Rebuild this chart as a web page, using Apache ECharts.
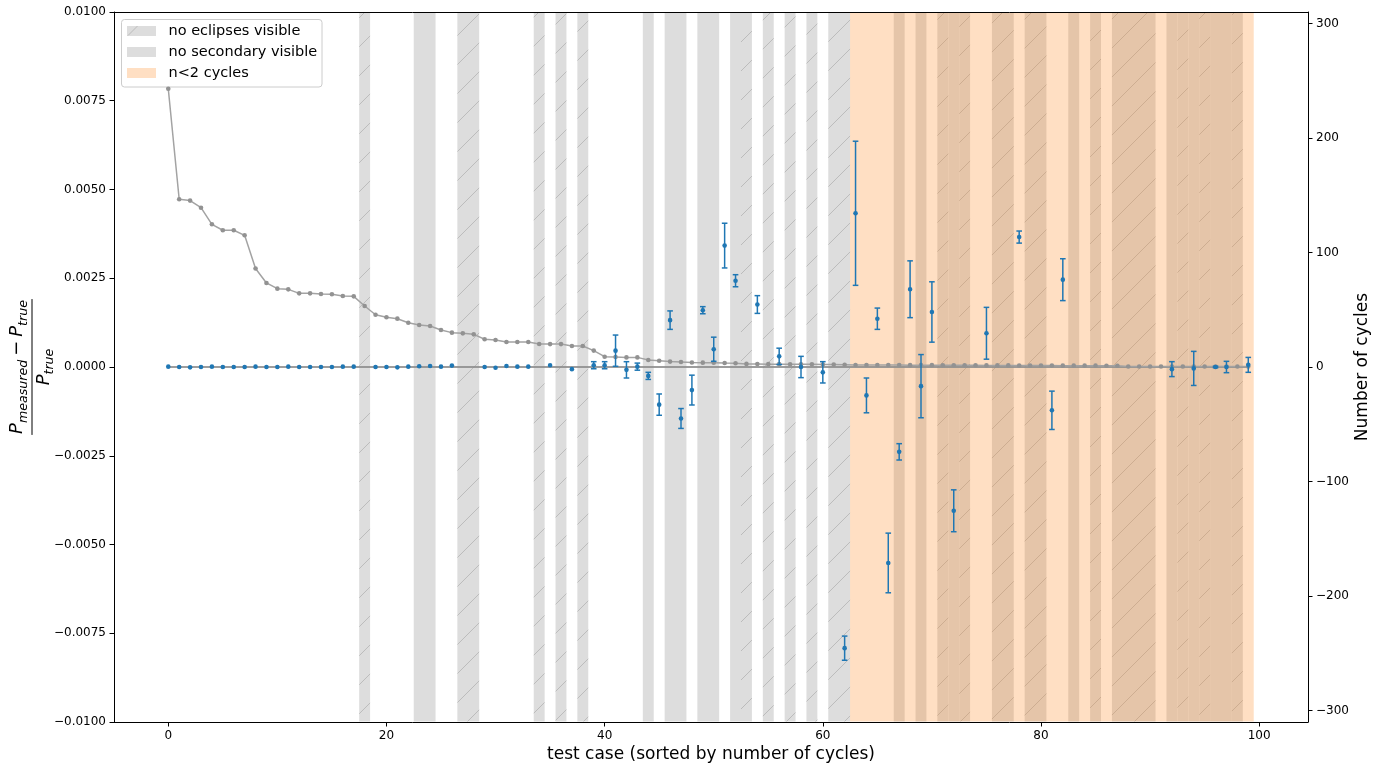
<!DOCTYPE html>
<html><head><meta charset="utf-8">
<script src="https://cdn.jsdelivr.net/npm/echarts@6/dist/echarts.min.js"></script>
<style>html,body{margin:0;padding:0;background:#fff}#c{width:1391px;height:767px}</style>
</head><body><div id="c"></div><script>
// ---------- data ----------
const cycles = [
  243, 146.5, 145.3, 139.1, 124.6, 119.4, 119.4, 115, 86, 73.4,
  68.4, 67.8, 64.3, 64.3, 63.8, 63.5, 62, 61.7, 53.3, 45.6,
  43.5, 42.2, 38.7, 36.7, 35.8, 32.3, 30, 29.4, 28.5, 24.2,
  23.6, 21.8, 21.8, 21.8, 20.1, 20, 20, 18.3, 18.3, 14.3,
  9, 8.7, 8.4, 8.4, 6.1, 5.5, 4.7, 4.4, 3.9, 3.8,
  3.8, 3.5, 3.3, 2.7, 2.6, 2.5, 2.5, 2.4, 2.3, 2.3,
  2.2, 2.1, 2.0, 1.8, 1.8, 1.7, 1.7, 1.7, 1.6, 1.6,
  1.6, 1.5, 1.5, 1.5, 1.5, 1.4, 1.4, 1.4, 1.3, 1.3,
  1.3, 1.3, 1.2, 1.2, 1.2, 1.2, 1.1, 1.1, 0.5, 0.5,
  0.5, 0.5, 0.5, 0.5, 0.5, 0.5, 0.5, 0.5, 0.5, 0.5
];
const measCases = [
  0,1,2,3,4,5,6,7,8,9,10,11,12,13,14,15,16,17,
  19,20,21,22,23,24,25,26,
  29,30,31,32,33,35,37,
  39,40,41,42,43,44,45,46,47,48,49,50,51,52,
  54,56,58,60,62,
  63,64,65,66,67,68,69,70,72,75,78,81,82,
  92,94,96,97,99
];
const relErr = [
  0.00001,0,-0.00001,0,0.00001,0,0,0,0.00001,0,0,0.00001,0,0,0,0,0.00001,0.00001,
  0,0,-0.00001,0.00001,0.00002,0.00003,0.00001,0.00004,
  0,-0.00002,0.00003,0.00001,0.00001,0.00005,-0.00006,
  0.00005,0.00005,0.00046,-0.00008,0.00001,-0.00025,-0.00106,0.00132,-0.00145,-0.00065,0.0016,0.0005,0.00342,0.00243,
  0.00176,0.0003,0.0,-0.00015,-0.00792,
  0.00433,-0.0008,0.00136,-0.00552,-0.00239,0.00219,-0.00054,0.00155,-0.00405,0.00095,0.00366,-0.00122,0.00246,
  -0.00006,-0.00004,0.0,0.0,0.00006
];
const relErrSigma = [
  0,0,0,0,0,0,0,0,0,0,0,0,0,0,0,0,0,0,
  0,0,0,0,0,0,0,0,
  0,0,0,0,0,0,0,
  0.0001,0.0001,0.00044,0.00023,0.0001,0.0001,0.0003,0.00026,0.00028,0.00042,0.0001,0.00034,0.00063,0.00017,
  0.00025,0.00023,0.0003,0.0003,0.00034,
  0.00203,0.00049,0.0003,0.00084,0.00023,0.0008,0.00089,0.00085,0.00059,0.00073,0.00017,0.00054,0.00059,
  0.00021,0.00048,0.00002,0.00016,0.00021
];
const noEclipseCases = [18,27,28,34,36,38,53,55,57,59,61,62,71,73,76,77,79,80,85,87,88,89,90,93,95,98];
const noSecondaryCases = [23,24,44,46,47,49,50,52,67,69,72,83,92,94,96,97];
const fewCyclesRange = [63, 99];
const zeroLineX = [0, 99];
const xTicks = [0, 20, 40, 60, 80, 100];
const leftTicks = [-0.01, -0.0075, -0.005, -0.0025, 0, 0.0025, 0.005, 0.0075, 0.01];
const rightTicks = [-300, -200, -100, 0, 100, 200, 300];

// ---------- helpers ----------
const BLUE = '#1f77b4';
const FONT = '"DejaVu Sans", "Liberation Sans", sans-serif';
function runs(list, flag) {
  const s = list.slice().sort((a, b) => a - b), out = [];
  let a = s[0], b = s[0];
  for (let i = 1; i <= s.length; i++) {
    if (i < s.length && s[i] === b + 1) { b = s[i]; continue; }
    out.push([a - 0.5, b + 0.5, flag, 0]);
    if (i < s.length) { a = b = s[i]; }
  }
  return out;
}
const grayBands = runs(noSecondaryCases, 0).concat(runs(noEclipseCases, 1));
const HATCH_P = 29;
function renderBand(params, api) {
  const x0 = api.value(0), x1 = api.value(1), hatch = api.value(2);
  const cs = params.coordSys;
  const pL = api.coord([x0, 0])[0], pR = api.coord([x1, 0])[0];
  const top = cs.y + 0.5, bot = cs.y + cs.height - 0.5;
  const ch = [{ type: 'rect', shape: { x: pL, y: top, width: pR - pL, height: bot - top }, style: { fill: '#dddddd' } }];
  if (hatch) {
    const st = { stroke: 'rgba(110,110,110,0.3)', lineWidth: 1 };
    const cMin = pL + top, cMax = pR + bot;
    for (let c = Math.floor(cMin / HATCH_P) * HATCH_P; c <= cMax; c += HATCH_P) {
      const xa = Math.max(pL, c - bot), xb = Math.min(pR, c - top);
      if (xb > xa) ch.push({ type: 'line', shape: { x1: xa, y1: c - xa, x2: xb, y2: c - xb }, style: st });
    }
  }
  return { type: 'group', children: ch };
}
function renderOrange(params, api) {
  const cs = params.coordSys;
  const pL = api.coord([api.value(0), 0])[0], pR = api.coord([api.value(1), 0])[0];
  return { type: 'rect', shape: { x: pL, y: cs.y + 0.5, width: pR - pL, height: cs.height - 1 }, style: { fill: 'rgba(255,127,14,0.25)' } };
}
function renderErr(params, api) {
  const x = api.value(0), y = api.value(1), e = api.value(2);
  const c = api.coord([x, y]);
  const ch = [];
  if (e > 0) {
    const t = api.coord([x, y + e]), b = api.coord([x, y - e]);
    const st = { stroke: BLUE, lineWidth: 1.5 };
    ch.push({ type: 'line', shape: { x1: c[0], y1: t[1], x2: c[0], y2: b[1] }, style: st });
    ch.push({ type: 'line', shape: { x1: c[0] - 2.8, y1: t[1], x2: c[0] + 2.8, y2: t[1] }, style: st });
    ch.push({ type: 'line', shape: { x1: c[0] - 2.8, y1: b[1], x2: c[0] + 2.8, y2: b[1] }, style: st });
  }
  ch.push({ type: 'circle', shape: { cx: c[0], cy: c[1], r: 2.3 }, style: { fill: BLUE } });
  return { type: 'group', children: ch };
}
const minus = s => String(s).replace('-', '\u2212');

// math label (fraction) for left axis
const mctx = document.createElement('canvas').getContext('2d');
function mathLine(pieces, baseY) {
  let x = 0; const els = [];
  for (const p of pieces) {
    if (p.gap) { x += p.gap; continue; }
    const style = p.italic ? 'italic' : 'normal';
    mctx.font = `${style} ${p.size}px "DejaVu Sans"`;
    const w = mctx.measureText(p.t).width;
    els.push({ x0: x, y: baseY + (p.dy || 0) - 0.32 * p.size, t: p.t, size: p.size, style });
    x += w;
  }
  return { width: x, els: els.map(e => ({
    type: 'text', x: e.x0 - x / 2, y: e.y,
    style: { text: e.t, fontSize: e.size, fontStyle: e.style, fontFamily: FONT, fill: '#000', align: 'left', verticalAlign: 'middle' }
  })) };
}
const S = 18, s = 12.6;
const num = mathLine([
  { t: 'P', size: S, italic: true }, { t: 'measured', size: s, italic: true, dy: 3.8 },
  { gap: 4 }, { t: '\u2212', size: S }, { gap: 4 },
  { t: 'P', size: S, italic: true }, { t: 'true', size: s, italic: true, dy: 3.8 }
], -8.5);
const den = mathLine([
  { t: 'P', size: S, italic: true }, { t: 'true', size: s, italic: true, dy: 3.8 }
], 18);
const barHalf = Math.max(num.width, den.width) / 2 + 1;

// ---------- chart ----------
const chart = echarts.init(document.getElementById('c'), null, { renderer: 'canvas' });
const axisLineStyle = { color: '#000', width: 1 };
const option = {
  animation: false,
  backgroundColor: '#ffffff',
  grid: { left: 114, right: 83, top: 12, bottom: 45, containLabel: false },
  xAxis: [{
    type: 'value', min: -4.975, max: 104.475, z: 10,
    axisLine: { show: true, onZero: false, lineStyle: axisLineStyle },
    axisTick: { show: true, length: 4.5, lineStyle: axisLineStyle, customValues: xTicks },
    axisLabel: { customValues: xTicks, color: '#000', fontSize: 12, fontFamily: FONT, margin: 8 },
    splitLine: { show: false }
  }, {
    type: 'value', position: 'top', min: -4.975, max: 104.475, z: 10,
    axisLine: { show: true, onZero: false, lineStyle: axisLineStyle },
    axisTick: { show: false }, axisLabel: { show: false }, splitLine: { show: false }
  }],
  yAxis: [{
    type: 'value', min: -0.01, max: 0.01, position: 'left', z: 10,
    axisLine: { show: true, onZero: false, lineStyle: axisLineStyle },
    axisTick: { show: true, length: 4.5, lineStyle: axisLineStyle, customValues: leftTicks },
    axisLabel: { customValues: leftTicks, color: '#000', fontSize: 12, fontFamily: FONT, margin: 8,
      formatter: v => minus(v.toFixed(4)) },
    splitLine: { show: false }
  }, {
    type: 'value', min: -310, max: 310, position: 'right', z: 10,
    axisLine: { show: true, onZero: false, lineStyle: axisLineStyle },
    axisTick: { show: true, length: 4.5, lineStyle: axisLineStyle, customValues: rightTicks },
    axisLabel: { customValues: rightTicks, color: '#000', fontSize: 12, fontFamily: FONT, margin: 8,
      formatter: v => minus(v) },
    splitLine: { show: false }
  }],
  series: [{
    name: 'gray bands', type: 'custom', xAxisIndex: 0, yAxisIndex: 0, z: 1, silent: true,
    renderItem: renderBand, encode: { x: [0, 1], y: 3 }, data: grayBands, clip: false
  }, {
    name: 'n<2 cycles', type: 'custom', xAxisIndex: 0, yAxisIndex: 0, z: 2, silent: true,
    renderItem: renderOrange, encode: { x: [0, 1], y: 3 },
    data: [[fewCyclesRange[0] - 0.5, fewCyclesRange[1] + 0.5, 0, 0]]
  }, {
    name: 'zero', type: 'line', xAxisIndex: 0, yAxisIndex: 0, z: 3, silent: true, symbol: 'none',
    lineStyle: { color: '#8c8c8c', width: 2, opacity: 0.85 },
    data: zeroLineX.map(x => [x, 0])
  }, {
    name: 'cycles', type: 'line', xAxisIndex: 0, yAxisIndex: 1, z: 4, silent: true,
    symbol: 'circle', symbolSize: 4.6, showSymbol: true,
    lineStyle: { color: '#a3a3a3', width: 1.5 }, itemStyle: { color: '#929292' },
    data: cycles.map((v, i) => [i, v])
  }, {
    name: 'relative error', type: 'custom', xAxisIndex: 0, yAxisIndex: 0, z: 5, silent: true,
    renderItem: renderErr, encode: { x: 0, y: 1 },
    data: measCases.map((c, i) => [c, relErr[i], relErrSigma[i]])
  }],
  graphic: [
    // axis titles
    { type: 'text', x: 711, y: 755, z: 100,
      style: { text: 'test case (sorted by number of cycles)', fontSize: 17, fontFamily: FONT, fill: '#000', align: 'center', verticalAlign: 'middle' } },
    { type: 'text', x: 1363, y: 367, rotation: Math.PI / 2, z: 100,
      style: { text: 'Number of cycles', fontSize: 17, fontFamily: FONT, fill: '#000', align: 'center', verticalAlign: 'middle' } },
    { type: 'group', x: 32, y: 367, rotation: Math.PI / 2, z: 100,
      children: num.els.concat(den.els).concat([
        { type: 'line', shape: { x1: -barHalf, y1: 0, x2: barHalf, y2: 0 }, style: { stroke: '#000', lineWidth: 1 } }
      ]) },
    // legend
    { type: 'group', x: 0, y: 0, z: 100, children: [
      { type: 'rect', shape: { x: 121.5, y: 19.5, width: 200.5, height: 67.5, r: 3 },
        style: { fill: 'rgba(255,255,255,0.8)', stroke: '#cccccc', lineWidth: 1 } },
      { type: 'rect', shape: { x: 127, y: 26, width: 29, height: 10 }, style: { fill: '#dddddd' } },
      { type: 'line', shape: { x1: 128, y1: 35.5, x2: 137.5, y2: 26 }, style: { stroke: 'rgba(110,110,110,0.3)', lineWidth: 1 } },
      { type: 'rect', shape: { x: 127, y: 47, width: 29, height: 10 }, style: { fill: '#dddddd' } },
      { type: 'rect', shape: { x: 127, y: 68, width: 29, height: 10 }, style: { fill: 'rgba(255,127,14,0.25)' } },
      { type: 'text', x: 168.5, y: 31, style: { text: 'no eclipses visible', fontSize: 14.5, fontFamily: FONT, fill: '#000', align: 'left', verticalAlign: 'middle' } },
      { type: 'text', x: 168.5, y: 52, style: { text: 'no secondary visible', fontSize: 14.5, fontFamily: FONT, fill: '#000', align: 'left', verticalAlign: 'middle' } },
      { type: 'text', x: 168.5, y: 73, style: { text: 'n<2 cycles', fontSize: 14.5, fontFamily: FONT, fill: '#000', align: 'left', verticalAlign: 'middle' } }
    ] }
  ]
};
chart.setOption(option);
</script></body></html>
